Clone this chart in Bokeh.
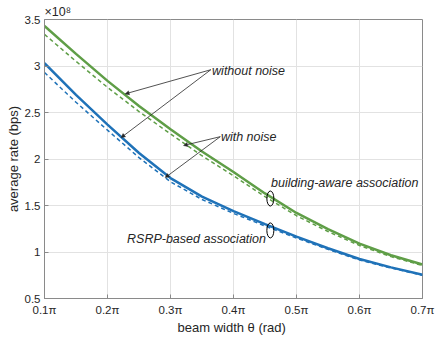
from bokeh.plotting import figure
from bokeh.models import Label, Arrow, NormalHead, FixedTicker, Range1d
from bokeh.embed import file_html
from bokeh.resources import INLINE

# beam width (in units of pi)
theta = [0.10, 0.15, 0.20, 0.25, 0.30, 0.35, 0.40, 0.45, 0.50, 0.55, 0.60, 0.65, 0.70]
# average rate (x 1e8 bps)
ba_no_noise = [3.43, 3.13, 2.84, 2.57, 2.32, 2.08, 1.86, 1.63, 1.42, 1.245, 1.09, 0.965, 0.865]
ba_noise = [3.34, 3.05, 2.77, 2.51, 2.27, 2.035, 1.82, 1.595, 1.39, 1.22, 1.07, 0.95, 0.855]
rsrp_no_noise = [3.03, 2.69, 2.37, 2.065, 1.795, 1.595, 1.44, 1.30, 1.165, 1.04, 0.925, 0.835, 0.755]
rsrp_noise = [2.93, 2.61, 2.31, 2.015, 1.755, 1.565, 1.415, 1.28, 1.15, 1.028, 0.915, 0.828, 0.75]

x_ticks = [0.1, 0.2, 0.3, 0.4, 0.5, 0.6, 0.7]
x_tick_labels = ["0.1π", "0.2π", "0.3π", "0.4π", "0.5π", "0.6π", "0.7π"]
y_ticks = [0.5, 1, 1.5, 2, 2.5, 3, 3.5]
y_tick_labels = ["0.5", "1", "1.5", "2", "2.5", "3", "3.5"]

GREEN = "#5f9e47"
BLUE = "#1f72b8"
TXT = "#262626"
FONT = "Liberation Sans"

p = figure(width=436, height=337, output_backend="svg", toolbar_location=None,
           x_range=Range1d(0.1, 0.7), y_range=Range1d(0.5, 3.5),
           min_border_left=44, min_border_right=14, min_border_top=19, min_border_bottom=39)
p.background_fill_color = "white"
p.border_fill_color = "white"
p.outline_line_color = "#8a8a8a"
p.outline_line_width = 1

# exponent as a left-aligned title above the frame
p.title.text = "×10⁸"
p.title.align = "left"
p.title.offset = 0
p.title.standoff = 2
p.title.text_font = FONT
p.title.text_font_size = "12.5px"
p.title.text_font_style = "normal"
p.title.text_color = TXT

for ax in (p.xaxis[0], p.yaxis[0]):
    ax.axis_line_color = "#8a8a8a"
    ax.major_tick_line_color = "#8a8a8a"
    ax.major_tick_in = 4
    ax.major_tick_out = 0
    ax.minor_tick_line_color = None
    ax.major_label_text_font = FONT
    ax.major_label_text_font_size = "11.5px"
    ax.major_label_text_color = TXT
    ax.axis_label_text_font = FONT
    ax.axis_label_text_font_size = "13px"
    ax.axis_label_text_font_style = "normal"
    ax.axis_label_text_color = TXT

p.xaxis.ticker = FixedTicker(ticks=x_ticks)
p.xaxis.major_label_overrides = dict(zip(x_ticks, x_tick_labels))
p.yaxis.ticker = FixedTicker(ticks=y_ticks)
p.yaxis.major_label_overrides = dict(zip(y_ticks, y_tick_labels))
p.xaxis.axis_label = "beam width  θ (rad)"
p.yaxis.axis_label = "average rate (bps)"
p.xaxis.major_label_standoff = 5
p.xaxis.axis_label_standoff = 1
p.yaxis.major_label_standoff = 4
p.yaxis.axis_label_standoff = 1

p.xgrid.grid_line_color = "#e2e2e2"
p.ygrid.grid_line_color = "#e2e2e2"

p.line(theta, ba_noise, line_color=GREEN, line_width=1.5, line_dash="4 3")
p.line(theta, rsrp_noise, line_color=BLUE, line_width=1.5, line_dash="4 3")
p.line(theta, ba_no_noise, line_color=GREEN, line_width=2.5)
p.line(theta, rsrp_no_noise, line_color=BLUE, line_width=2.5)

# arrows
def arrow(xs, ys, xe, ye):
    p.add_layout(Arrow(x_start=xs, y_start=ys, x_end=xe, y_end=ye, line_color=TXT, line_width=0.8,
                       end=NormalHead(size=4, fill_color=TXT, line_color=TXT, line_width=0.5)))

arrow(0.364, 2.96, 0.228, 2.70)
arrow(0.364, 2.96, 0.2216, 2.23)
arrow(0.379, 2.24, 0.3207, 2.145)
arrow(0.379, 2.24, 0.2916, 1.80)

def note(x, y, t):
    p.add_layout(Label(x=x, y=y, text=t, text_font=FONT, text_font_size="12.5px",
                       text_font_style="italic", text_color=TXT, text_baseline="middle",
                       text_align="left"))

note(0.366, 2.945, "without noise")
note(0.380, 2.24, "with noise")
note(0.4597, 1.74, "building-aware association")
note(0.231, 1.136, "RSRP-based association")

p.ellipse(x=[0.4585, 0.4585], y=[1.575, 1.232], width=7, height=15,
          width_units="screen", height_units="screen",
          fill_alpha=0, line_color="black", line_width=1)

open("out.html", "w").write(file_html(p, INLINE))
